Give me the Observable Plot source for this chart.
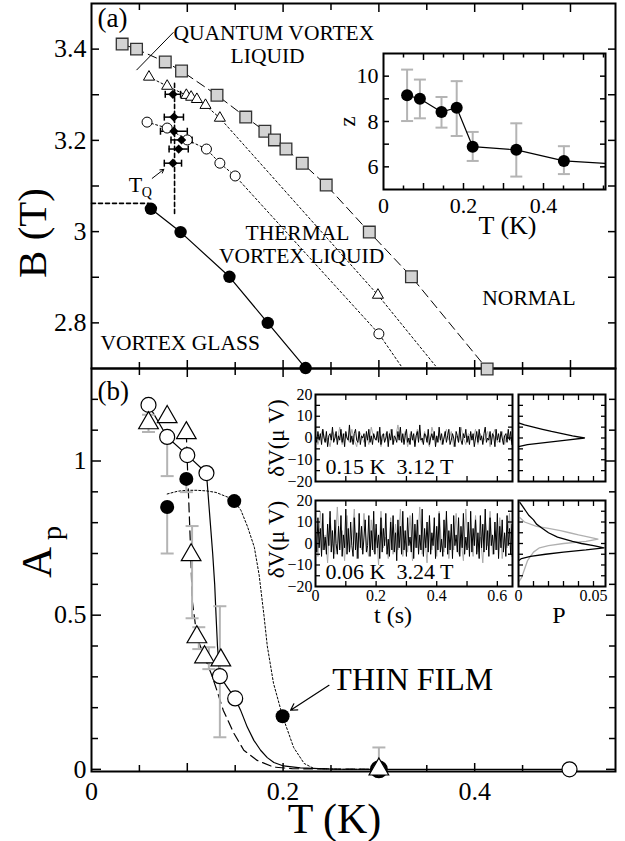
<!DOCTYPE html>
<html><head><meta charset="utf-8">
<script src="https://cdn.jsdelivr.net/npm/d3@7"></script>
<script src="https://cdn.jsdelivr.net/npm/@observablehq/plot@0.6"></script>
<style>
html,body{margin:0;padding:0;background:#fff;}
#wrap{position:relative;width:625px;height:841px;overflow:hidden;background:#fff;font-family:"Liberation Serif",serif;}
#wrap > svg{position:absolute;}
</style></head><body><div id="wrap"></div>
<script>
// ---------------- Panel (a): phase diagram B (T) vs T (K) ----------------
const sqT  = [0.032,0.047,0.077,0.094,0.131,0.161,0.181,0.191,0.203,0.220,0.245,0.290,0.334,0.413];
const sqB  = [3.411,3.400,3.372,3.352,3.299,3.251,3.220,3.201,3.181,3.150,3.102,2.999,2.901,2.699];
const triT = [0.060,0.079,0.099,0.104,0.110,0.119,0.134,0.299];
const triB = [3.339,3.319,3.299,3.295,3.290,3.277,3.249,2.861];
const triLineT = [0.060,0.079,0.099,0.104,0.110,0.119,0.134,0.299,0.359];
const triLineB = [3.339,3.319,3.299,3.295,3.290,3.277,3.249,2.861,2.706];
const ocT  = [0.058,0.079,0.100,0.120,0.134,0.150,0.300];
const ocB  = [3.240,3.227,3.201,3.181,3.150,3.122,2.776];
const ocLineT = [0.058,0.079,0.100,0.120,0.134,0.150,0.300,0.323];
const ocLineB = [3.240,3.227,3.201,3.181,3.150,3.122,2.776,2.706];
const fcT  = [0.062,0.093,0.144,0.184,0.2235];
const fcB  = [3.050,2.999,2.901,2.800,2.701];
const diaT = [0.085,0.086,0.086,0.094,0.091,0.085];
const diaB = [3.301,3.251,3.220,3.201,3.181,3.150];
const diaErr = [0.008,0.010,0.014,0.011,0.010,0.009];
const tqGuideT = [0, 0.060];   const tqGuideB = 3.062;
const tqVertT = 0.0867;        const tqVertB = [3.04, 3.33];

// inset: z vs T
const zT   = [0.059,0.091,0.145,0.183,0.223,0.332,0.451];
const zV   = [9.16,9.00,8.42,8.61,6.89,6.75,6.26];
const zLo  = [8.02,8.14,7.73,7.36,6.26,5.57,5.68];
const zHi  = [10.29,9.85,9.08,9.78,7.54,7.92,6.91];
const zLineT = [0.059,0.091,0.145,0.183,0.223,0.332,0.451,0.60];
const zLineV = [9.16,9.00,8.42,8.61,6.89,6.75,6.26,6.10];

// ---------------- Panel (b): A_p vs T ----------------
const bocT = [0.0595,0.079,0.100,0.120,0.134,0.150,0.300,0.499];
const bocA = [1.182,1.078,1.019,0.961,0.302,0.230,0.0,0.0];
const btrT = [0.0595,0.079,0.099,0.104,0.110,0.118,0.135,0.300];
const btrA = [1.123,1.143,1.091,0.695,0.429,0.364,0.354,0.0];
const bfcT = [0.079,0.099,0.149,0.1995];
const bfcA = [0.851,0.942,0.870,0.172];
const ringT = [0.300]; const ringA = [0.0];
const ebT  = [0.0595,0.079,0.079,0.099,0.105,0.112,0.1225,0.134,0.300];
const ebLo = [1.094,0.951,0.700,0.899,0.490,0.390,0.325,0.104,0.0];
const ebHi = [1.150,1.078,0.851,0.942,0.789,0.461,0.396,0.529,0.071];
const solidT = [0.0595,0.079,0.100,0.120,0.124,0.1265,0.1286,0.130,0.1315,0.134,0.142,0.150,0.1556,0.1626,0.1695,0.1765,0.1835,0.1904,0.2005,0.218,0.250,0.300,0.499];
const solidA = [1.182,1.078,1.019,0.961,0.80,0.70,0.60,0.50,0.40,0.302,0.265,0.230,0.192,0.137,0.094,0.062,0.038,0.022,0.011,0.005,0.001,0.0,0.0];
const dashT = [0.099,0.0999,0.1034,0.1051,0.1076,0.110,0.118,0.125,0.131,0.1375,0.1486,0.159,0.173,0.190,0.210,0.300];
const dashA = [1.091,1.003,0.717,0.549,0.490,0.429,0.364,0.310,0.255,0.192,0.117,0.062,0.029,0.0075,0.002,0.0];
const dotT = [0.079,0.090,0.100,0.110,0.120,0.130,0.142,0.149,0.156,0.163,0.170,0.175,0.180,0.1835,0.190,0.1995,0.211,0.222,0.232,0.260,0.300];
const dotA = [0.893,0.902,0.905,0.905,0.903,0.898,0.883,0.870,0.840,0.786,0.720,0.630,0.500,0.400,0.279,0.172,0.071,0.019,0.003,0.0,0.0];

// time-series insets (dV in microvolts), sampled every dt seconds
const dtBlack = 0.004, dtGray = 0.008;
const tsTopBlack = [1,-2,3,-1,2,-3,4,0,-2,3,-4,1,2,-1,5,-2,0,3,-3,1,-1,4,-2,2,-4,3,0,-1,6,-2,1,-3,2,4,-1,-2,3,-3,1,0,2,-4,3,-1,4,-2,1,-3,2,0,-1,3,-2,5,-3,1,2,-2,0,3,-4,2,-1,4,-3,1,0,-2,3,-1,5,-2,2,-3,1,4,-2,0,-3,3,-1,2,-4,1,3,-2,6,-1,0,-3,2,1,-2,4,-3,0,2,-1,3,-4,1,-2,5,-1,2,-3,0,3,-2,1,4,-3,-1,2,0,-4,3,1,-2,5,-1,-3,2,0,4,-2,1,-3,3,-1,2,-4,0,3,-2,4,-1,1,-3,2,5,-2,0,-1,3,-3,2,1,-4,4,-1,2,-2,3,0,-3,1,2,-2,4,-1,3,-3];
const tsTopGray = [2,-3,1,4,-2,0,-4,3,1,-1,5,-3,2,0,-2,4,-1,-4,3,1,-2,2,-3,5,0,-1,3,-4,1,2,-2,4,-3,0,6,-1,-2,3,-4,2,1,-3,4,0,-2,3,-1,-4,5,1,-2,2,-3,0,4,-1,3,-4,1,-2,5,0,-3,2,1,-1,4,-3,2,-2,0,3,-4,1,4,-2,-1,3,-3,2,0,-2];
const tsBotBlack = [5,-4,12,-2,7,-6,14,-3,3,-5,9,-1,15,-4,6,-7,11,0,-5,8,-3,13,-6,4,-2,16,-5,7,-4,10,-1,-6,12,-3,5,-7,14,-2,8,-5,3,11,-4,-1,13,-6,6,-3,15,-5,9,-2,4,-7,12,-4,7,-1,14,-5,2,-6,10,-3,13,-4,5,-8,11,-2,8,-5,15,-3,6,-6,12,-1,3,-4,14,-7,9,-2,11,-5,4,-3,16,-6,7,-2,10,-4,13,-5,5,-1,12,-7,8,-3,14,-4,2,-6,11,-2,15,-5,6,-3,9,-7,13,-1,4,-4,12,-6,8,-2,14,-5,3,-3,10,-6,15,-4,7,-1,11,-5,5,-7,13,-2,9,-4,16,-3,6,-6,12,-1,4,-5,10,-3,14,-7,8,-2,11,-4,5,-6,13,-1,7,-5,9];
const tsBotGray = [10,-6,15,-3,4,-9,12,0,-5,17,-2,6,-8,13,-4,2,16,-7,5,-3,14,-1,-6,11,-4,7,-10,15,-2,3,-7,12,-5,9,-3,16,-6,1,-4,13,-8,6,-2,17,-5,4,-9,11,-3,8,-6,15,-1,-4,12,-7,5,-3,14,-5,2,-8,16,-2,7,-6,13,-4,3,-9,11,-1,15,-5,6,-3,12,-7,4,-2,14,-6];
// histograms P(dV)
const hTopV = [7,6,5,4,3,2,1,0,-1,-2,-3,-4];
const hTopP = [0.0,0.004,0.010,0.016,0.022,0.029,0.036,0.044,0.032,0.019,0.006,0.0];
const hBotV = [19,17,15,13,11,9,7,5,3,1,0,-1,-2,-3,-4,-5,-6,-7,-8];
const hBotP = [0.001,0.003,0.005,0.007,0.010,0.012,0.016,0.020,0.026,0.036,0.042,0.050,0.057,0.045,0.030,0.018,0.008,0.002,0.0];
const hGrayV = [12,10,8,7,6,5,4,3,2,1,0,-1,-2,-4,-6,-8,-10,-12,-14,-16,-18];
const hGrayP = [0.001,0.004,0.012,0.020,0.028,0.034,0.040,0.047,0.053,0.045,0.030,0.020,0.014,0.010,0.008,0.006,0.005,0.004,0.003,0.002,0.0];

// ---------------- helpers ----------------
const pts = (xs, ys) => xs.map((x, i) => ({x, y: ys[i]}));
const series = (vals, dt) => vals.map((v, i) => ({x: i * dt, y: v}));
const hbar = {draw(c, s){const w = Math.sqrt(s/Math.PI); c.moveTo(-w,0); c.lineTo(w,0);}};
const vbar = {draw(c, s){const w = Math.sqrt(s/Math.PI); c.moveTo(0,-w); c.lineTo(0,w);}};
const FONT = "Liberation Serif";
const STYLE = {fontFamily: FONT, background: "transparent", overflow: "visible"};
const GRAY = "#b4b4b4";

function frameTicks(xSets, ySets, sw = 1.5) {
  const m = [];
  for (const [vals, size] of xSets) for (const anchor of ["top", "bottom"])
    m.push(Plot.axisX(vals, {anchor, tickSize: -size, tickFormat: () => "", label: null, strokeWidth: sw}));
  for (const [vals, size] of ySets) for (const anchor of ["left", "right"])
    m.push(Plot.axisY(vals, {anchor, tickSize: -size, tickFormat: () => "", label: null, strokeWidth: sw}));
  return m;
}
const wrap = document.getElementById("wrap");
function place(svg, left, top, z) {
  svg.style.position = "absolute"; svg.style.left = left + "px"; svg.style.top = top + "px"; svg.style.zIndex = z;
  wrap.appendChild(svg);
}
const fmt = d => (Math.abs(d - Math.round(d)) < 1e-9 ? String(Math.round(d)) : String(+d.toFixed(2)));
const vlabel = (txt, dx, dy, size) => Plot.text([txt], {frameAnchor: "left", rotate: -90, dx, dy, textAnchor: "middle", lineAnchor: "bottom", fontSize: size});

// ---------------- panel (a) ----------------
const aXMajor = [0.1,0.2,0.3,0.4,0.5], aXMinor = [0.05,0.15,0.25,0.35,0.45];
const aYTicks = [2.8,2.9,3.0,3.1,3.2,3.3,3.4];
const aYLabels = [2.8,3,3.2,3.4];
const annA = [
  {t: "(a)", x: 0.0063, y: 3.448, s: 27},
  {t: "QUANTUM VORTEX", x: 0.0856, y: 3.4197, s: 21.5},
  {t: "LIQUID", x: 0.1452, y: 3.369, s: 21.5},
  {t: "THERMAL", x: 0.1608, y: 2.9816, s: 21.5},
  {t: "VORTEX LIQUID", x: 0.133, y: 2.9306, s: 21.5},
  {t: "NORMAL", x: 0.408, y: 2.839, s: 21.5},
  {t: "VORTEX GLASS", x: 0.0094, y: 2.7406, s: 21.5},
  {t: "T", x: 0.039, y: 3.0874, s: 22},
  {t: "Q", x: 0.0525, y: 3.0765, s: 14}
];
const plotA = Plot.plot({
  width: 625, height: 378, marginLeft: 91, marginRight: 10, marginTop: 3, marginBottom: 10,
  x: {domain: [0, 0.547]}, y: {domain: [2.7, 3.5]}, style: STYLE,
  marks: [
    Plot.frame({strokeWidth: 2}),
    ...frameTicks([[aXMajor, 8], [aXMinor, 6]], [[aYTicks, 8]]),
    Plot.axisY(aYLabels, {anchor: "left", tickSize: 0, tickPadding: 5, fontSize: 26, tickFormat: fmt, label: null}),
    vlabel("B (T)", -46, 47, 41),
    Plot.link([{x1: 0.047, y1: 3.354, x2: 0.0856, y2: 3.437}], {x1: "x1", y1: "y1", x2: "x2", y2: "y2", stroke: "black", strokeWidth: 1}),
    Plot.line(pts(tqGuideT, tqGuideT.map(() => tqGuideB)), {x: "x", y: "y", stroke: "black", strokeWidth: 1.6, strokeDasharray: "4,3"}),
    Plot.line(pts(tqVertB.map(() => tqVertT), tqVertB), {x: "x", y: "y", stroke: "black", strokeWidth: 1.6, strokeDasharray: "4,3"}),
    Plot.line(pts(sqT, sqB), {x: "x", y: "y", stroke: "black", strokeWidth: 1, strokeDasharray: "9,5"}),
    Plot.line(pts(triLineT, triLineB), {x: "x", y: "y", stroke: "black", strokeWidth: 1, strokeDasharray: "2,2.5"}),
    Plot.line(pts(ocLineT, ocLineB), {x: "x", y: "y", stroke: "black", strokeWidth: 1, strokeDasharray: "2,2.5"}),
    Plot.line(pts(fcT, fcB), {x: "x", y: "y", stroke: "black", strokeWidth: 1.2}),
    Plot.ruleY(diaT.map((t, i) => ({x1: t - diaErr[i], x2: t + diaErr[i], y: diaB[i]})), {x1: "x1", x2: "x2", y: "y", stroke: "black", strokeWidth: 1.5}),
    Plot.dot(diaT.flatMap((t, i) => [{x: t - diaErr[i], y: diaB[i]}, {x: t + diaErr[i], y: diaB[i]}]), {x: "x", y: "y", symbol: vbar, r: 3.5, stroke: "black", strokeWidth: 1.5, fill: "none"}),
    Plot.dot(pts(sqT, sqB), {x: "x", y: "y", symbol: "square", r: 6.6, fill: "#d3d3d3", stroke: "#333", strokeWidth: 1.3}),
    Plot.dot(pts(triT, triB), {x: "x", y: "y", symbol: "triangle", r: 4.1, fill: "white", stroke: "black", strokeWidth: 1}),
    Plot.dot(pts(ocT, ocB), {x: "x", y: "y", r: 5, fill: "white", stroke: "black", strokeWidth: 1}),
    Plot.dot(pts(fcT, fcB), {x: "x", y: "y", r: 6.2, fill: "black"}),
    Plot.dot(pts(diaT, diaB), {x: "x", y: "y", symbol: "diamond2", r: 4.2, fill: "black"}),
    Plot.text(annA, {x: "x", y: "y", text: "t", fontSize: d => d.s, textAnchor: "start", lineAnchor: "bottom"}),
    Plot.arrow([{x1: 0.0634, y1: 3.1168, x2: 0.0755, y2: 3.1365}], {x1: "x1", y1: "y1", x2: "x2", y2: "y2", stroke: "black", strokeWidth: 1, headLength: 6})
  ]
});

// ---------------- inset z ----------------
const zXMajor = [0.1,0.2,0.3,0.4,0.5], zXMinor = [0.05,0.15,0.25,0.35,0.45,0.55];
const zYTicks = [6,7,8,9,10];
const plotZ = Plot.plot({
  width: 290, height: 200, marginLeft: 53, marginRight: 15, marginTop: 13, marginBottom: 51,
  x: {domain: [0, 0.555]}, y: {domain: [5, 11]}, style: STYLE,
  marks: [
    Plot.frame({strokeWidth: 2}),
    ...frameTicks([[zXMajor, 6], [zXMinor, 3.5]], [[zYTicks, 6]]),
    Plot.axisX([0, 0.2, 0.4], {anchor: "bottom", tickSize: 0, tickPadding: 8, fontSize: 22, tickFormat: fmt, label: null}),
    Plot.axisY([6, 8, 10], {anchor: "left", tickSize: 0, tickPadding: 5, fontSize: 22, tickFormat: fmt, label: null}),
    vlabel("z", -29, 0, 23),
    Plot.text(["T (K)"], {frameAnchor: "bottom", dx: 13, dy: 44, lineAnchor: "bottom", fontSize: 26}),
    Plot.ruleX(zT.map((t, i) => ({x: t, y1: zLo[i], y2: zHi[i]})), {x: "x", y1: "y1", y2: "y2", stroke: GRAY, strokeWidth: 2}),
    Plot.dot(zT.flatMap((t, i) => [{x: t, y: zLo[i]}, {x: t, y: zHi[i]}]), {x: "x", y: "y", symbol: hbar, r: 6, stroke: GRAY, strokeWidth: 2, fill: "none"}),
    Plot.line(pts(zLineT, zLineV), {x: "x", y: "y", stroke: "black", strokeWidth: 1.2, clip: true}),
    Plot.dot(pts(zT, zV), {x: "x", y: "y", r: 6, fill: "black"})
  ]
});

// ---------------- panel (b) ----------------
const bYMajor = [0, 0.5, 1], bYMinor = [0.1,0.2,0.3,0.4,0.6,0.7,0.8,0.9,1.1,1.2];
const annB = [
  {t: "(b)", x: 0.0063, y: 1.198, s: 27},
  {t: "THIN FILM", x: 0.2514, y: 0.2565, s: 32}
];
const plotB = Plot.plot({
  width: 625, height: 475, marginLeft: 91, marginRight: 10, marginTop: 2, marginBottom: 70,
  x: {domain: [0, 0.547]}, y: {domain: [-0.007, 1.3]}, style: STYLE,
  marks: [
    Plot.frame({strokeWidth: 2}),
    ...frameTicks([[aXMajor, 8], [aXMinor, 6]], [[bYMajor, 10], [bYMinor, 7]]),
    Plot.axisX([0, 0.2, 0.4], {anchor: "bottom", tickSize: 0, tickPadding: 10, fontSize: 26, tickFormat: fmt, label: null}),
    Plot.axisY(bYMajor, {anchor: "left", tickSize: 0, tickPadding: 5, fontSize: 26, tickFormat: fmt, label: null}),
    Plot.text(["T (K)"], {frameAnchor: "bottom", dx: -19, dy: 61, lineAnchor: "bottom", fontSize: 42}),
    vlabel("A", -41, -7.5, 43),
    vlabel("p", -31, -37, 28),
    Plot.line(pts(dotT, dotA), {x: "x", y: "y", stroke: "black", strokeWidth: 1, strokeDasharray: "2,2"}),
    Plot.line(pts(dashT, dashA), {x: "x", y: "y", stroke: "black", strokeWidth: 1.2, strokeDasharray: "9,5"}),
    Plot.line(pts(solidT, solidA), {x: "x", y: "y", stroke: "black", strokeWidth: 1.2}),
    Plot.ruleX(ebT.map((t, i) => ({x: t, y1: ebLo[i], y2: ebHi[i]})), {x: "x", y1: "y1", y2: "y2", stroke: GRAY, strokeWidth: 2}),
    Plot.dot(ebT.flatMap((t, i) => [{x: t, y: ebLo[i]}, {x: t, y: ebHi[i]}]), {x: "x", y: "y", symbol: hbar, r: 6.5, stroke: GRAY, strokeWidth: 2, fill: "none"}),
    Plot.dot(pts(bfcT, bfcA), {x: "x", y: "y", r: 7, fill: "black"}),
    Plot.dot(pts(ringT, ringA), {x: "x", y: "y", r: 7.5, fill: "white", stroke: "black", strokeWidth: 3}),
    Plot.dot(pts(bocT, bocA).filter((d, i) => bocT[i] !== 0.300), {x: "x", y: "y", r: 7.5, fill: "white", stroke: "black", strokeWidth: 1.2}),
    Plot.dot(pts(btrT, btrA), {x: "x", y: "y", symbol: "triangle", r: 7.3, fill: "white", stroke: "black", strokeWidth: 1.2}),
    Plot.text(annB, {x: "x", y: "y", text: "t", fontSize: d => d.s, textAnchor: "start", lineAnchor: "bottom"}),
    Plot.arrow([{x1: 0.2479, y1: 0.2727, x2: 0.2078, y2: 0.1916}], {x1: "x1", y1: "y1", x2: "x2", y2: "y2", stroke: "black", strokeWidth: 1.2, headLength: 9})
  ]
});

// ---------------- time-series insets ----------------
const tsXTicks = [0.1,0.2,0.3,0.4,0.5,0.6];
const vTicks = [-15,-10,-5,0,5,10,15];
const vLabels = [-20,-10,0,10,20];
const vfmt = d => (d < 0 ? "\u2212" + (-d) : String(d));
function tsPlot(gray, black, caption, height, marginBottom, withX) {
  return Plot.plot({
    width: 265, height, marginLeft: 65, marginRight: 3, marginTop: 9, marginBottom,
    x: {domain: [0, 0.65]}, y: {domain: [-20, 20]}, style: STYLE,
    marks: [
      Plot.line(series(gray, dtGray), {x: "x", y: "y", stroke: "#a8a8a8", strokeWidth: 1, clip: true}),
      Plot.line(series(black, dtBlack), {x: "x", y: "y", stroke: "black", strokeWidth: 1, clip: true}),
      Plot.frame({strokeWidth: 2}),
      ...frameTicks([[tsXTicks, 5]], [[vTicks, 5]], 1.3),
      Plot.axisY(vLabels, {anchor: "left", tickSize: 0, tickPadding: 3, fontSize: 16, tickFormat: vfmt, label: null}),
      withX ? Plot.axisX([0, 0.2, 0.4, 0.6], {anchor: "bottom", tickSize: 0, tickPadding: 3, fontSize: 16, tickFormat: fmt, label: null}) : null,
      withX ? Plot.text(["t (s)"], {frameAnchor: "bottom", dx: -21, dy: 36, lineAnchor: "bottom", fontSize: 24}) : null,
      vlabel("\u03b4V(\u03bc V)", -32, withX ? -4 : 0, 23),
      Plot.text([caption], {frameAnchor: "bottom-left", dx: 10, dy: -8, lineAnchor: "bottom", textAnchor: "start", fontSize: 22})
    ]
  });
}
const plotTS1 = tsPlot(tsTopGray, tsTopBlack, "0.15 K  3.12 T", 100, 4, false);
const plotTS2 = tsPlot(tsBotGray, tsBotBlack, "0.06 K  3.24 T", 140, 45, true);

const hXTicks = [0.01,0.02,0.03,0.04,0.05];
function histPlot(layers, height, marginBottom, withX) {
  return Plot.plot({
    width: 95, height, marginLeft: 3, marginRight: 5, marginTop: 9, marginBottom,
    x: {domain: [0, 0.058]}, y: {domain: [-20, 20]}, style: STYLE,
    marks: [
      ...layers.map(([P, V, color]) => Plot.line(pts(P, V), {x: "x", y: "y", stroke: color, strokeWidth: 1.3, clip: true})),
      Plot.frame({strokeWidth: 2}),
      ...frameTicks([[hXTicks, 5]], [[vTicks, 5]], 1.3),
      withX ? Plot.axisX([0, 0.05], {anchor: "bottom", tickSize: 0, tickPadding: 3, fontSize: 16, tickFormat: fmt, label: null}) : null,
      withX ? Plot.text(["P"], {frameAnchor: "bottom", dx: -3, dy: 36, lineAnchor: "bottom", fontSize: 24}) : null
    ]
  });
}
const plotH1 = histPlot([[hTopP, hTopV, "black"]], 100, 4, false);
const plotH2 = histPlot([[hGrayP, hGrayV, "#b0b0b0"], [hBotP, hBotV, "black"]], 140, 45, true);

place(plotB, 0, 366, 1);
place(plotA, 0, 0, 2);
place(plotZ, 330, 40, 3);
place(plotTS1, 250, 385, 3);
place(plotTS2, 250, 491, 3);
place(plotH1, 515, 385, 3);
place(plotH2, 515, 491, 3);
</script></body></html>
